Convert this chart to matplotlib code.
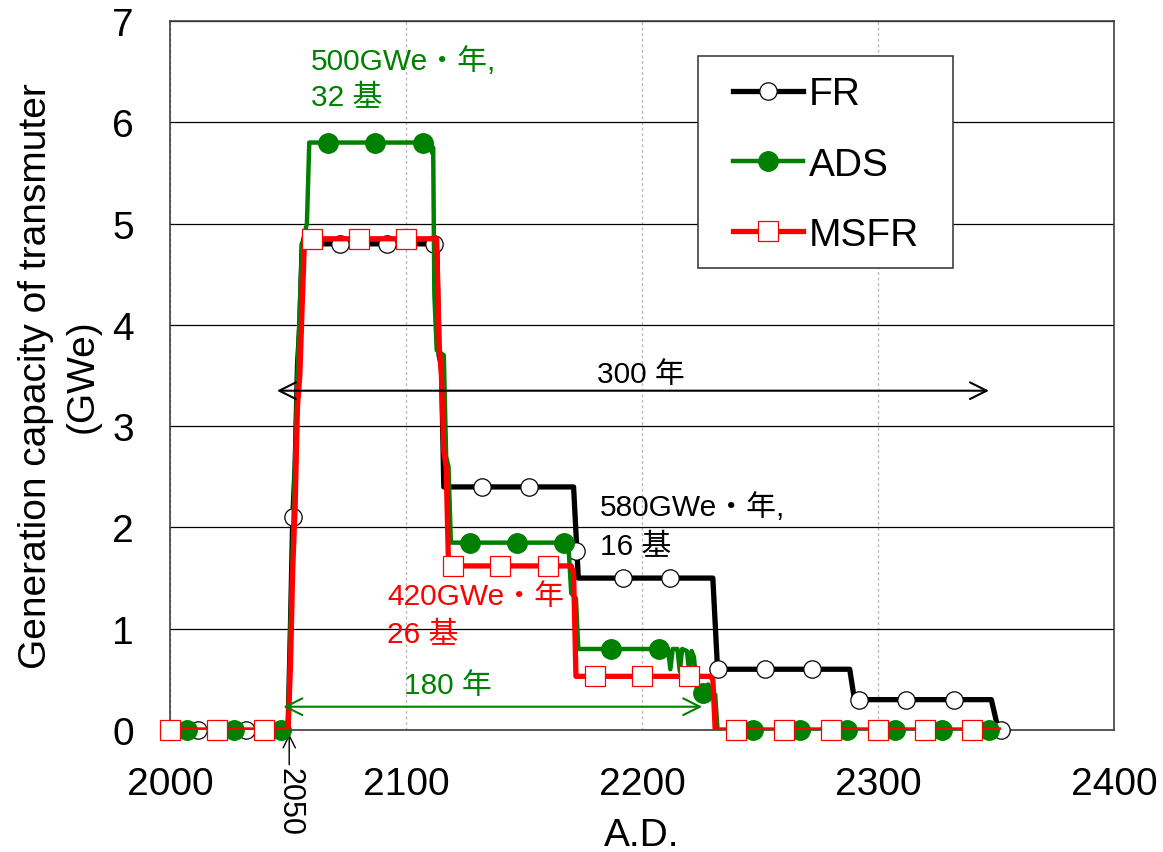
import matplotlib
matplotlib.use("Agg")
import matplotlib.pyplot as plt
from matplotlib.lines import Line2D
from matplotlib.patches import Rectangle

plt.rcParams['font.family'] = ['Liberation Sans', 'Noto Sans CJK JP']

# step outlines (year, GWe)
fr_x = [2000, 2050, 2051, 2052, 2053, 2054, 2055, 2056, 2113, 2114, 2115, 2116,
        2171, 2173, 2230, 2232, 2288, 2290, 2348, 2351]
fr_y = [0, 0, 1.0, 2.1, 2.6, 3.6, 4.0, 4.8, 4.8, 3.7, 3.6, 2.4,
        2.4, 1.5, 1.5, 0.6, 0.6, 0.3, 0.3, 0]

ads_x = [2000, 2050, 2051, 2052, 2053, 2054, 2055, 2056, 2058, 2059,
         2110.5, 2111, 2111.5, 2112, 2113, 2116, 2117, 2118, 2119,
         2168, 2169, 2170, 2172, 2173,
         2211, 2212, 2213, 2215, 2216, 2217, 2219, 2220, 2221, 2222, 2223,
         2224, 2226, 2228, 2229, 2231, 2232, 2350]
ads_y = [0, 0, 1.0, 1.8, 2.7, 3.5, 4.2, 4.8, 5.0, 5.8,
         5.8, 5.7, 5.75, 4.3, 3.75, 3.7, 2.7, 2.6, 1.85,
         1.85, 1.75, 1.35, 1.3, 0.8,
         0.8, 0.6, 0.8, 0.8, 0.58, 0.8, 0.78, 0.58, 0.78, 0.72, 0.45,
         0.35, 0.35, 0.45, 0.4, 0.35, 0, 0]

msfr_x = [2000, 2050, 2051, 2052, 2053, 2054, 2055, 2056, 2057, 2113, 2114,
          2115, 2116, 2117, 2118, 2170, 2171, 2172, 2229, 2230, 2231, 2351]
msfr_y = [0, 0, 0.6, 1.6, 2.2, 3.2, 3.5, 4.2, 4.85, 4.85, 3.8,
          3.5, 2.75, 2.6, 1.62, 1.62, 1.55, 0.53, 0.53, 0.5, 0, 0]

# marker positions
fr_mx = [2012, 2032, 2052, 2072, 2092, 2112, 2132, 2152, 2172, 2192, 2212,
         2232, 2252, 2272, 2292, 2312, 2332, 2352]
fr_my = [0, 0, 2.1, 4.8, 4.8, 4.8, 2.4, 2.4, 1.77, 1.5, 1.5,
         0.6, 0.6, 0.6, 0.3, 0.3, 0.3, 0]
ads_mx = [2007, 2027, 2047, 2067, 2087, 2107, 2127, 2147, 2167, 2187, 2207,
          2226, 2247, 2267, 2287, 2307, 2327, 2347]
ads_my = [0, 0, 0, 5.8, 5.8, 5.8, 1.85, 1.85, 1.85, 0.8, 0.8,
          0.37, 0, 0, 0, 0, 0, 0]
msfr_mx = [2000, 2020, 2040, 2060, 2080, 2100, 2120, 2140, 2160, 2180, 2200,
           2220, 2240, 2260, 2280, 2300, 2320, 2340]
msfr_my = [0, 0, 0, 4.85, 4.85, 4.85, 1.62, 1.62, 1.62, 0.53, 0.53,
           0.53, 0, 0, 0, 0, 0, 0]

x_ticks = [2000, 2100, 2200, 2300, 2400]
y_ticks = [0, 1, 2, 3, 4, 5, 6, 7]

GREEN = '#008000'
RED = '#ff0000'

fig = plt.figure(figsize=(11.63, 8.53), dpi=100)
ax = fig.add_axes([0.1462, 0.1430, 0.8117, 0.8312])

ax.set_xlim(2000, 2400)
ax.set_ylim(0, 7)
ax.set_axisbelow(True)
ax.grid(axis='y', color='black', lw=0.9)
ax.grid(axis='x', color='#b8b8b8', lw=1.0, ls=(0, (2, 2)))
for s in ax.spines.values():
    s.set_color('#404040')
    s.set_linewidth(1.2)

# FR
ax.plot(fr_x, fr_y, color='black', lw=3.8, zorder=3)
ax.plot(fr_mx, fr_my, ls='none', marker='o', ms=12.5, mfc='white', mec='black',
        mew=0.9, zorder=3, clip_on=False)
# ADS
ax.plot(ads_x, ads_y, color=GREEN, lw=3.2, zorder=4)
ax.plot(ads_mx, ads_my, ls='none', marker='o', ms=14, mfc=GREEN, mec=GREEN,
        zorder=4, clip_on=False)
# MSFR
ax.plot(msfr_x, msfr_y, color=RED, lw=3.8, zorder=5)
ax.plot(msfr_mx, msfr_my, ls='none', marker='s', ms=15, mfc='white', mec=RED,
        mew=0.9, zorder=5, clip_on=False)

ax.set_xticks(x_ticks)
ax.set_yticks(y_ticks)
ax.tick_params(axis='both', length=0, labelsize=28)
ax.tick_params(axis='x', pad=26)
ax.tick_params(axis='y', pad=26)

ax.set_xlabel('A.D.', fontsize=28)
ax.xaxis.set_label_coords(0.5, -0.123)
ax.set_ylabel('Generation capacity of transmuter\n(GWe)', fontsize=28,
              linespacing=1.35)
ax.yaxis.set_label_coords(-0.074, 0.5)

# annotations
ax.text(2059.7, 6.53, '500GWe・年,', color=GREEN, fontsize=21.5)
ax.text(2059.7, 6.17, '32 基', color=GREEN, fontsize=21.5)
ax.text(2182, 2.12, '580GWe・年,', color='black', fontsize=21.5)
ax.text(2182, 1.74, '16 基', color='black', fontsize=21.5)
ax.text(2092, 1.24, '420GWe・年', color=RED, fontsize=21.5)
ax.text(2092, 0.87, '26 基', color=RED, fontsize=21.5)

ax.annotate('', xy=(2045.3, 3.35), xytext=(2347, 3.35),
            arrowprops=dict(arrowstyle='<->', color='black', lw=1.5,
                            mutation_scale=30, shrinkA=0, shrinkB=0), zorder=6)
ax.text(2181, 3.44, '300 年', color='black', fontsize=21.5)

ax.annotate('', xy=(2048, 0.23), xytext=(2225.5, 0.23),
            arrowprops=dict(arrowstyle='<->', color=GREEN, lw=1.5,
                            mutation_scale=30, shrinkA=0, shrinkB=0), zorder=6)
ax.text(2099, 0.37, '180 年', color=GREEN, fontsize=21.5)

ax.annotate('2050', xy=(2050.5, -0.04), xytext=(2050.5, -0.37),
            ha='center', va='top', rotation=-90, fontsize=22,
            arrowprops=dict(arrowstyle='->', color='black', lw=1.0,
                            shrinkA=0, shrinkB=0),
            annotation_clip=False)

# legend
handles = [
    Line2D([], [], color='black', lw=3.8, marker='o', ms=12.5, mfc='white',
           mec='black', mew=0.9),
    Line2D([], [], color=GREEN, lw=3.2, marker='o', ms=14, mfc=GREEN, mec=GREEN),
    Line2D([], [], color=RED, lw=3.8, marker='s', ms=15, mfc='white', mec=RED,
           mew=0.9),
]
ax.legend(handles, ['FR', 'ADS', 'MSFR'], loc='upper left',
          bbox_to_anchor=(0.596, 0.922), borderaxespad=0, borderpad=0,
          frameon=False, fontsize=28, handlelength=1.8, handletextpad=0.15,
          labelspacing=0.88)
ax.add_patch(Rectangle((0.559, 0.652), 0.27, 0.299, transform=ax.transAxes,
                       facecolor='white', edgecolor='#404040', lw=1.2,
                       zorder=7))
ax.get_legend().set_zorder(8)

fig.savefig('out.png', dpi=100)
